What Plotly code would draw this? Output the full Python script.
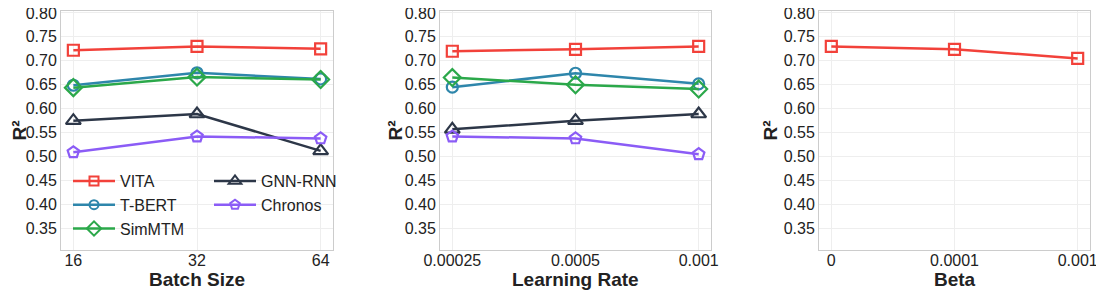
import plotly.graph_objects as go

# ---- data ----
batch_sizes = ["16", "32", "64"]
learning_rates = ["0.00025", "0.0005", "0.001"]
betas = ["0", "0.0001", "0.001"]

models = ["VITA", "T-BERT", "SimMTM", "GNN-RNN", "Chronos"]

bs_vita = [0.722, 0.730, 0.725]
bs_tbert = [0.649, 0.675, 0.662]
bs_simmtm = [0.644, 0.666, 0.661]
bs_gnnrnn = [0.575, 0.589, 0.512]
bs_chronos = [0.509, 0.542, 0.538]

lr_vita = [0.720, 0.724, 0.730]
lr_tbert = [0.645, 0.674, 0.652]
lr_simmtm = [0.665, 0.650, 0.641]
lr_gnnrnn = [0.557, 0.575, 0.589]
lr_chronos = [0.542, 0.538, 0.505]

beta_vita = [0.730, 0.724, 0.705]

y_ticks = [0.35, 0.40, 0.45, 0.50, 0.55, 0.60, 0.65, 0.70, 0.75, 0.80]
x_titles = ["Batch Size", "Learning Rate", "Beta"]
y_title = "R²"

# ---- styles ----
colors = {"VITA": "#F2413A", "T-BERT": "#2E86AB", "SimMTM": "#2BA84A",
          "GNN-RNN": "#2D3748", "Chronos": "#8B5CF6"}
symbols = {"VITA": "square-open", "T-BERT": "circle-open", "SimMTM": "diamond-open",
           "GNN-RNN": "triangle-up-open", "Chronos": "pentagon-open"}
sizes = {"VITA": 11, "T-BERT": 11, "SimMTM": 13, "GNN-RNN": 13, "Chronos": 12}
legend_of = {"VITA": "legend", "T-BERT": "legend", "SimMTM": "legend",
             "GNN-RNN": "legend2", "Chronos": "legend2"}

bs_data = dict(zip(models, [bs_vita, bs_tbert, bs_simmtm, bs_gnnrnn, bs_chronos]))
lr_data = dict(zip(models, [lr_vita, lr_tbert, lr_simmtm, lr_gnnrnn, lr_chronos]))

FONT = "Liberation Sans, Arial, sans-serif"
TXT = "#222222"
fig = go.Figure()


def add(name, xs, ys, xa, ya):
    fig.add_trace(go.Scatter(
        x=xs, y=ys, name=name, mode="lines+markers",
        xaxis=xa, yaxis=ya, showlegend=False,
        line=dict(color=colors[name], width=2.5),
        marker=dict(symbol=symbols[name], size=sizes[name], color=colors[name],
                    line=dict(width=2.2, color=colors[name])),
    ))


for m in models:
    add(m, batch_sizes, bs_data[m], "x", "y")
for m in models:
    add(m, learning_rates, lr_data[m], "x2", "y2")
add("VITA", betas, beta_vita, "x3", "y3")

# legend-only entries (smaller markers, like the reference legend)
for m in models:
    fig.add_trace(go.Scatter(
        x=[None], y=[None], name=m, mode="lines+markers", xaxis="x", yaxis="y",
        legend=legend_of[m], showlegend=True,
        line=dict(color=colors[m], width=2.5),
        marker=dict(symbol=symbols[m], size=sizes[m] - 2, color=colors[m],
                    line=dict(width=2, color=colors[m])),
    ))

# page body has an 8px margin: figure occupies screen [8, 1104] x [8, 295]
OFF = 8
W, H = 1104 - OFF, 295 - OFF
left_px, right_px, top_px, bottom_px = 61, 1090, 11, 250  # screen coordinates
ml, mr, mt, mb = left_px - OFF, W - (right_px - OFF), top_px - OFF, H - (bottom_px - OFF)
pw = W - ml - mr
ph = H - mt - mb


def px_x(px):  # screen x -> paper fraction
    return (px - OFF - ml) / pw


def px_y(py):  # screen y -> paper fraction
    return (H - mb - (py - OFF)) / ph


doms = [[0, px_x(333)], [px_x(440), px_x(711)], [px_x(819), 1]]
ytitle_x = [19, 395, 770]

axis_common = dict(showline=True, mirror=True, linecolor="#CCCCCC", linewidth=1,
                   showgrid=True, gridcolor="#EEEEEE", gridwidth=1, zeroline=False,
                   ticks="", automargin=False, ticklabeloverflow="allow",
                   tickfont=dict(size=16, color=TXT, family=FONT))

annotations = []
for i in range(3):
    suf = "" if i == 0 else str(i + 1)
    fig.update_layout(**{
        "xaxis" + suf: dict(axis_common, domain=doms[i], type="category", range=[-0.1, 2.1],
                            anchor="y" + suf),
        "yaxis" + suf: dict(axis_common, domain=[0, 1], range=[0.305, 0.804], anchor="x" + suf,
                            tickvals=y_ticks, ticktext=[f"{v:.2f}" for v in y_ticks]),
    })
    annotations.append(dict(text=x_titles[i], xref="paper", yref="paper",
                            x=(doms[i][0] + doms[i][1]) / 2, y=px_y(279),
                            xanchor="center", yanchor="middle", showarrow=False,
                            font=dict(size=19, color=TXT, family=FONT, weight="bold")))
    annotations.append(dict(text=y_title, xref="paper", yref="paper",
                            x=px_x(ytitle_x[i]), y=0.5, textangle=-90,
                            xanchor="center", yanchor="middle", showarrow=False,
                            font=dict(size=19, color=TXT, family=FONT, weight="bold")))

try:
    fig.update_xaxes(ticklabelstandoff=-4)
except Exception:
    pass

legend_common = dict(orientation="v", xanchor="left", yanchor="top",
                     bgcolor="rgba(0,0,0,0)", tracegroupgap=0, itemwidth=42,
                     font=dict(size=16, family=FONT, color=TXT))

fig.update_layout(
    width=W, height=H, margin=dict(l=ml, r=mr, t=mt, b=mb, autoexpand=False),
    paper_bgcolor="white", plot_bgcolor="white",
    font=dict(family=FONT, color=TXT),
    annotations=annotations,
    legend=dict(legend_common, x=px_x(68), y=px_y(164)),
    legend2=dict(legend_common, x=px_x(209), y=px_y(164)),
)

fig.write_html("out.html")
